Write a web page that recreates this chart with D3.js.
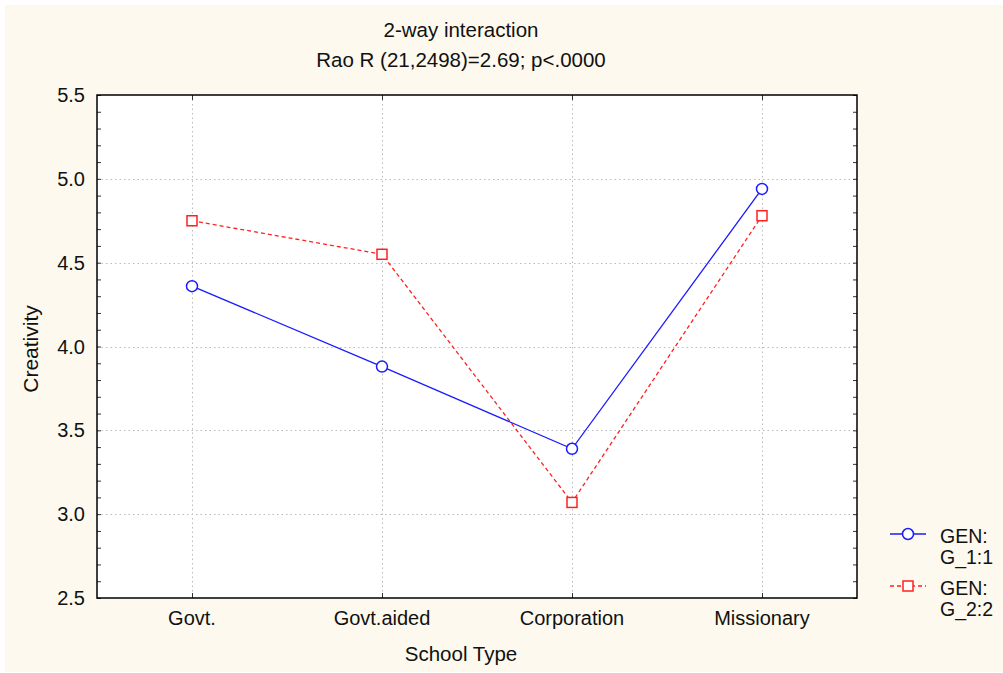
<!DOCTYPE html>
<html lang="en">
<head>
  <meta charset="UTF-8">
  <title>2-way interaction</title>
  <style>
    body { margin: 0; background: #fff; font-family: "Liberation Sans", Arial, sans-serif; }
    svg text { fill: #111; }
  </style>
</head>
<body>
  <svg id="chart" width="1003" height="673"></svg>

  <script src="https://cdn.jsdelivr.net/npm/d3@7"></script>
  <script>
    // data
    const categories = ['Govt.', 'Govt.aided', 'Corporation', 'Missionary'];
    const gen1 = [4.36, 3.88, 3.39, 4.94];
    const gen2 = [4.75, 4.55, 3.07, 4.78];
    const yTicks = [2.5, 3.0, 3.5, 4.0, 4.5, 5.0, 5.5];
    const seriesNames = [['GEN:', 'G_1:1'], ['GEN:', 'G_2:2']];

    const svg = d3.select('#chart');
    const plot = { left: 97, right: 857, top: 95, bottom: 598 };

    // cream background panel
    svg.append('rect')
      .attr('x', 5).attr('y', 5)
      .attr('width', 998).attr('height', 667)
      .attr('fill', '#fdf9ee');

    svg.append('rect')
      .attr('x', plot.left).attr('y', plot.top)
      .attr('width', plot.right - plot.left).attr('height', plot.bottom - plot.top)
      .attr('fill', '#fff');

    const x = d3.scalePoint().domain(categories).range([plot.left, plot.right]).padding(0.5);
    const y = d3.scaleLinear().domain([2.5, 5.5]).range([plot.bottom, plot.top]);

    // grid lines
    const grid = svg.append('g').attr('stroke', '#bbb').attr('stroke-dasharray', '1.5,3').attr('stroke-width', 1);
    grid.selectAll('line.h')
      .data(yTicks.slice(1, -1))
      .enter().append('line')
      .attr('x1', plot.left).attr('x2', plot.right)
      .attr('y1', d => Math.round(y(d)) + 0.5).attr('y2', d => Math.round(y(d)) + 0.5);
    grid.selectAll('line.v')
      .data(categories)
      .enter().append('line')
      .attr('x1', d => Math.round(x(d)) + 0.5).attr('x2', d => Math.round(x(d)) + 0.5)
      .attr('y1', plot.top).attr('y2', plot.bottom);

    // axes with inside ticks
    const minor = d3.range(25, 56).map(v => v / 10);
    const yLeft = d3.axisLeft(y).tickValues(minor).tickSize(-4).tickFormat('');
    svg.append('g').attr('transform', `translate(${plot.left},0)`).call(yLeft)
      .call(g => g.select('.domain').remove())
      .selectAll('line').attr('stroke', '#333');
    const yRight = d3.axisRight(y).tickValues(minor).tickSize(-4).tickFormat('');
    svg.append('g').attr('transform', `translate(${plot.right},0)`).call(yRight)
      .call(g => g.select('.domain').remove())
      .selectAll('line').attr('stroke', '#333');
    const xBottom = d3.axisBottom(x).tickSize(-5).tickFormat('');
    svg.append('g').attr('transform', `translate(0,${plot.bottom})`).call(xBottom)
      .call(g => g.select('.domain').remove())
      .selectAll('line').attr('stroke', '#333');
    const xTop = d3.axisTop(x).tickSize(-5).tickFormat('');
    svg.append('g').attr('transform', `translate(0,${plot.top})`).call(xTop)
      .call(g => g.select('.domain').remove())
      .selectAll('line').attr('stroke', '#333');

    svg.append('rect')
      .attr('x', plot.left).attr('y', plot.top)
      .attr('width', plot.right - plot.left).attr('height', plot.bottom - plot.top)
      .attr('fill', 'none').attr('stroke', '#000').attr('stroke-width', 1.5);

    // tick labels
    svg.selectAll('text.ylab')
      .data(yTicks)
      .enter().append('text')
      .attr('x', plot.left - 12).attr('y', d => y(d) + 7)
      .attr('text-anchor', 'end').attr('font-size', 20)
      .text(d => d.toFixed(1));
    svg.selectAll('text.xlab')
      .data(categories)
      .enter().append('text')
      .attr('x', d => x(d)).attr('y', 625)
      .attr('text-anchor', 'middle').attr('font-size', 20)
      .text(d => d);

    // titles
    svg.append('text').attr('x', 461).attr('y', 37).attr('text-anchor', 'middle')
      .attr('font-size', 20.5).text('2-way interaction');
    svg.append('text').attr('x', 461).attr('y', 67).attr('text-anchor', 'middle')
      .attr('font-size', 20.5).text('Rao R (21,2498)=2.69; p<.0000');
    svg.append('text').attr('x', 461).attr('y', 661).attr('text-anchor', 'middle')
      .attr('font-size', 20.5).text('School Type');
    svg.append('text').attr('transform', 'translate(38,349) rotate(-90)').attr('text-anchor', 'middle')
      .attr('font-size', 21).text('Creativity');

    // series
    const line = d3.line().x((d, i) => x(categories[i])).y(d => y(d));

    svg.append('path').datum(gen2)
      .attr('d', line).attr('fill', 'none')
      .attr('stroke', '#ff2020').attr('stroke-width', 1.3).attr('stroke-dasharray', '4,3');
    svg.append('path').datum(gen1)
      .attr('d', line).attr('fill', 'none')
      .attr('stroke', '#1a1aff').attr('stroke-width', 1.3);

    svg.selectAll('rect.sq')
      .data(gen2)
      .enter().append('rect')
      .attr('x', (d, i) => x(categories[i]) - 5).attr('y', d => y(d) - 5)
      .attr('width', 10).attr('height', 10)
      .attr('fill', '#fff').attr('stroke', '#ff2020').attr('stroke-width', 1.5);
    svg.selectAll('circle.pt')
      .data(gen1)
      .enter().append('circle')
      .attr('cx', (d, i) => x(categories[i])).attr('cy', d => y(d))
      .attr('r', 5.5)
      .attr('fill', '#fff').attr('stroke', '#1a1aff').attr('stroke-width', 1.5);

    // legend
    const legend = svg.append('g');
    legend.append('line').attr('x1', 890).attr('x2', 926).attr('y1', 534).attr('y2', 534)
      .attr('stroke', '#1a1aff').attr('stroke-width', 1.3);
    legend.append('circle').attr('cx', 908).attr('cy', 534).attr('r', 5.5)
      .attr('fill', '#fff').attr('stroke', '#1a1aff').attr('stroke-width', 1.5);
    legend.append('line').attr('x1', 890).attr('x2', 926).attr('y1', 586).attr('y2', 586)
      .attr('stroke', '#ff2020').attr('stroke-width', 1.3).attr('stroke-dasharray', '4,3');
    legend.append('rect').attr('x', 903).attr('y', 581).attr('width', 10).attr('height', 10)
      .attr('fill', '#fff').attr('stroke', '#ff2020').attr('stroke-width', 1.5);

    seriesNames.forEach((lines, k) => {
      lines.forEach((t, j) => {
        legend.append('text')
          .attr('x', 940).attr('y', 543 + k * 52 + j * 21)
          .attr('font-size', 19.5).text(t);
      });
    });
  </script>
</body>
</html>
